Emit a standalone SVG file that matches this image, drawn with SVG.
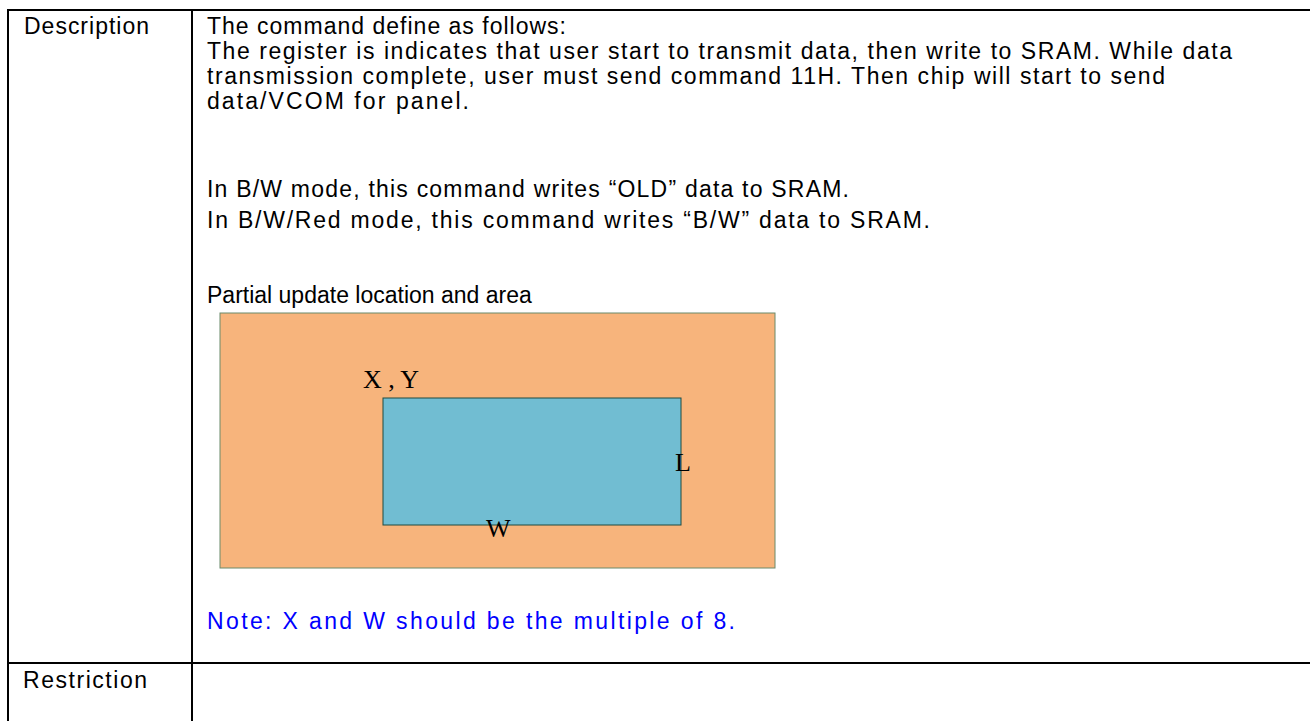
<svg xmlns="http://www.w3.org/2000/svg" width="1310" height="721" viewBox="0 0 1310 721">
<style>
.t{font-family:"Liberation Sans",Arial,sans-serif;font-size:23px;fill:#000}
.s{font-family:"Liberation Serif","Times New Roman",serif;font-size:26px;fill:#000}
.grid{stroke:#000;stroke-width:2;fill:none}
</style>
<rect width="1310" height="721" fill="#fff"/>
<g id="table">
<line class="grid" x1="8" y1="10" x2="1310" y2="10"/>
<line class="grid" x1="8" y1="663" x2="1310" y2="663"/>
<line class="grid" x1="8" y1="9" x2="8" y2="721"/>
<line class="grid" x1="192" y1="9" x2="192" y2="721"/>
</g>
<g id="labels">
<text class="t" x="24" y="34" textLength="125" lengthAdjust="spacing">Description</text>
<text class="t" x="23" y="688" textLength="124" lengthAdjust="spacing">Restriction</text>
</g>
<g id="description">
<text class="t" x="207" y="34" textLength="359" lengthAdjust="spacing">The command define as follows:</text>
<text class="t" x="207" y="59" textLength="1025" lengthAdjust="spacing">The register is indicates that user start to transmit data, then write to SRAM. While data</text>
<text class="t" x="207" y="84" textLength="958" lengthAdjust="spacing">transmission complete, user must send command 11H. Then chip will start to send</text>
<text class="t" x="207" y="109" textLength="262" lengthAdjust="spacing">data/VCOM for panel.</text>
<text class="t" x="207" y="197" textLength="642" lengthAdjust="spacing">In B/W mode, this command writes “OLD” data to SRAM.</text>
<text class="t" x="207" y="228" textLength="723" lengthAdjust="spacing">In B/W/Red mode, this command writes “B/W” data to SRAM.</text>
<text class="t" x="207" y="303">Partial update location and area</text>
<text class="t" x="207" y="629" textLength="528" lengthAdjust="spacing" style="fill:#0000ff">Note: X and W should be the multiple of 8.</text>
</g>
<g id="panel">
<rect x="220" y="313" width="555" height="255" fill="#f7b47c" stroke="#6b8a6b" stroke-width="1"/>
</g>
<g id="area">
<rect x="383" y="398" width="298" height="127" fill="#71bdd2" stroke="#1f4a40" stroke-width="1"/>
</g>
<g id="dims">
<text class="s" x="363" y="388">X , Y</text>
<text class="s" x="675" y="471">L</text>
<text class="s" x="486" y="537">W</text>
</g>
</svg>
